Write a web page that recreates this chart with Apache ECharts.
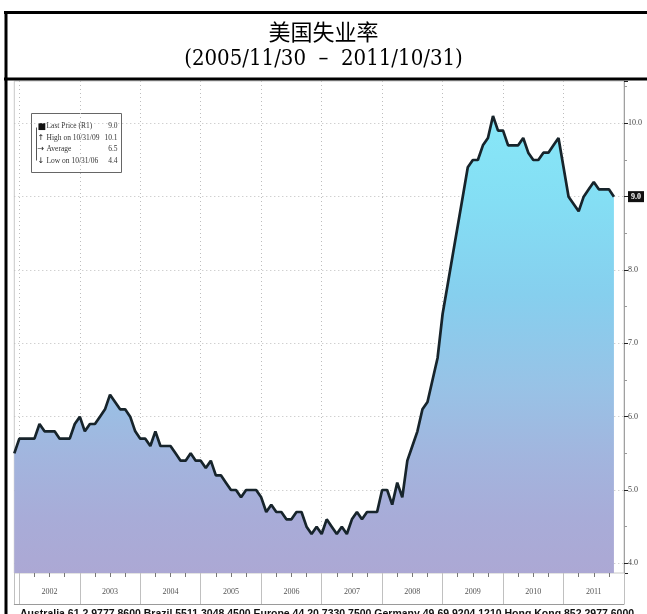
<!DOCTYPE html>
<html><head><meta charset="utf-8">
<script src="https://cdn.jsdelivr.net/npm/echarts@6/dist/echarts.min.js"></script>
<style>html,body{margin:0;padding:0;background:#fff}#c{width:647px;height:614px}</style>
</head><body><div id="c"></div>
<script>
// Month-end categories (Nov 2001 .. Dec 2011)
const months = [
 '2001-11','2001-12',
 '2002-01','2002-02','2002-03','2002-04','2002-05','2002-06','2002-07','2002-08','2002-09','2002-10','2002-11','2002-12',
 '2003-01','2003-02','2003-03','2003-04','2003-05','2003-06','2003-07','2003-08','2003-09','2003-10','2003-11','2003-12',
 '2004-01','2004-02','2004-03','2004-04','2004-05','2004-06','2004-07','2004-08','2004-09','2004-10','2004-11','2004-12',
 '2005-01','2005-02','2005-03','2005-04','2005-05','2005-06','2005-07','2005-08','2005-09','2005-10','2005-11','2005-12',
 '2006-01','2006-02','2006-03','2006-04','2006-05','2006-06','2006-07','2006-08','2006-09','2006-10','2006-11','2006-12',
 '2007-01','2007-02','2007-03','2007-04','2007-05','2007-06','2007-07','2007-08','2007-09','2007-10','2007-11','2007-12',
 '2008-01','2008-02','2008-03','2008-04','2008-05','2008-06','2008-07','2008-08','2008-09','2008-10','2008-11','2008-12',
 '2009-01','2009-02','2009-03','2009-04','2009-05','2009-06','2009-07','2009-08','2009-09','2009-10','2009-11','2009-12',
 '2010-01','2010-02','2010-03','2010-04','2010-05','2010-06','2010-07','2010-08','2010-09','2010-10','2010-11','2010-12',
 '2011-01','2011-02','2011-03','2011-04','2011-05','2011-06','2011-07','2011-08','2011-09','2011-10','2011-11','2011-12'
];
// US unemployment rate (%)
const values = [
 5.5,5.7,
 5.7,5.7,5.7,5.9,5.8,5.8,5.8,5.7,5.7,5.7,5.9,6.0,
 5.8,5.9,5.9,6.0,6.1,6.3,6.2,6.1,6.1,6.0,5.8,5.7,
 5.7,5.6,5.8,5.6,5.6,5.6,5.5,5.4,5.4,5.5,5.4,5.4,
 5.3,5.4,5.2,5.2,5.1,5.0,5.0,4.9,5.0,5.0,5.0,4.9,
 4.7,4.8,4.7,4.7,4.6,4.6,4.7,4.7,4.5,4.4,4.5,4.4,
 4.6,4.5,4.4,4.5,4.4,4.6,4.7,4.6,4.7,4.7,4.7,5.0,
 5.0,4.8,5.1,4.9,5.4,5.6,5.8,6.1,6.2,6.5,6.8,7.4,
 7.8,8.2,8.6,9.0,9.4,9.5,9.5,9.7,9.8,10.1,9.9,9.9,
 9.7,9.7,9.7,9.8,9.6,9.5,9.5,9.6,9.6,9.7,9.8,9.4,
 9.0,8.9,8.8,9.0,9.1,9.2,9.1,9.1,9.1,9.0,null,null
];
const yearLabels = ['2002','2003','2004','2005','2006','2007','2008','2009','2010','2011'];
const legendNames = ['Last Price (R1)','High on 10/31/09','Average','Low on 10/31/06'];
const titleText = '美国失业率';
const subtitleText = '(2005/11/30  –  2011/10/31)';
const footerText = 'Australia 61 2 9777 8600 Brazil 5511 3048 4500 Europe 44 20 7330 7500 Germany 49 69 9204 1210 Hong Kong 852 2977 6000';

const valid = values.filter(v => v != null);
const lastVal = valid[valid.length - 1];
const highVal = Math.max(...valid);
const lowVal = Math.min(...valid);
const avgVal = valid.reduce((a, b) => a + b, 0) / valid.length;
const legendVals = [lastVal, highVal, avgVal, lowVal].map(v => v.toFixed(1));
const legendIcons = ['■', '↑', '→', '↓'];

const chart = echarts.init(document.getElementById('c'), null, {renderer: 'canvas'});
const serif = 'Liberation Serif';
const legendChildren = [
  {type: 'rect', shape: {x: 0, y: 0, width: 90, height: 59}, style: {fill: '#fff', stroke: '#666', lineWidth: 1}},
  {type: 'line', shape: {x1: 5, y1: 14, x2: 5, y2: 47}, style: {stroke: '#555', lineWidth: 1}}
];
legendNames.forEach((n, i) => {
  const y = 13 + i * 11.4;
  legendChildren.push({type: 'text', style: {x: 6, y: y, text: legendIcons[i], fill: '#111', fontSize: i === 0 ? 9 : 8, fontFamily: 'DejaVu Sans', verticalAlign: 'middle'}});
  legendChildren.push({type: 'text', style: {x: 15, y: y, text: n, fill: '#333', fontSize: 7.5, fontFamily: serif, verticalAlign: 'middle'}});
  legendChildren.push({type: 'text', style: {x: 86, y: y, text: legendVals[i], fill: '#333', fontSize: 7.5, fontFamily: serif, align: 'right', verticalAlign: 'middle'}});
});

const option = {
  animation: false,
  backgroundColor: '#fff',
  title: [
    {text: titleText, left: 'center', top: 16, textStyle: {fontFamily: 'Noto Sans CJK SC', fontSize: 22, fontWeight: 'normal', color: '#000'}},
    {text: subtitleText, left: 'center', top: 43, textStyle: {fontFamily: 'DejaVu Serif Condensed', fontSize: 22, fontWeight: 'normal', color: '#000'}}
  ],
  grid: {left: 14.3, right: 21.4, top: 81, bottom: 41, show: true, borderColor: '#c8c8c8', borderWidth: 1},
  xAxis: [
    {
      type: 'category', data: months, boundaryGap: false,
      axisLine: {show: false},
      axisTick: {show: true, length: 4, interval: (i, v) => /-(03|06|09|12)$/.test(v), lineStyle: {color: '#777'}},
      axisLabel: {
        interval: (i, v) => v.endsWith('-06') && yearLabels.includes(v.slice(0, 4)),
        formatter: v => v.slice(0, 4), margin: 15, fontSize: 8, fontFamily: serif, color: '#555'
      },
      splitLine: {show: true, interval: (i, v) => v.endsWith('-12'), lineStyle: {type: [1, 3], color: '#bdbdbd'}}
    },
    {
      type: 'category', data: months, boundaryGap: false, position: 'bottom', offset: 31,
      axisLine: {show: true, lineStyle: {color: '#9a9a9a'}},
      axisTick: {show: true, inside: true, length: 31, interval: (i, v) => i === 0 || v.endsWith('-12'), lineStyle: {color: '#c0c0c0'}},
      axisLabel: {show: false}, splitLine: {show: false}
    }
  ],
  yAxis: {
    type: 'value', position: 'right', min: 3.868, max: 10.577, splitNumber: 7,
    axisLine: {show: true, lineStyle: {color: '#a0a0a0'}},
    axisTick: {show: true, length: 4, lineStyle: {color: '#222'}},
    minorTick: {show: true, splitNumber: 2, length: 3, lineStyle: {color: '#999'}},
    axisLabel: {
      showMinLabel: false, showMaxLabel: false, margin: 4, fontSize: 8, fontFamily: serif, color: '#444',
      formatter: v => (Math.abs(v - lastVal) < 1e-9 ? '{tag|' + v.toFixed(1) + '}' : v.toFixed(1)),
      rich: {tag: {backgroundColor: '#111', color: '#fff', padding: [2, 3, 1, 3], fontSize: 8, fontFamily: serif, fontWeight: 'bold'}}
    },
    splitLine: {show: true, showMinLine: false, showMaxLine: false, lineStyle: {type: [1, 3], color: '#bdbdbd'}}
  },
  series: [{
    type: 'line', data: values, symbol: 'none', connectNulls: false,
    lineStyle: {color: '#17242b', width: 2.7},
    areaStyle: {
      origin: 'start', opacity: 1,
      color: new echarts.graphic.LinearGradient(0, 110, 0, 573, [
        {offset: 0, color: '#88e8f8'},
        {offset: 0.2, color: '#84def4'},
        {offset: 0.4, color: '#86cfee'},
        {offset: 0.6, color: '#98c2e6'},
        {offset: 0.75, color: '#a2b5de'},
        {offset: 0.88, color: '#a8acd8'},
        {offset: 1, color: '#aca8d4'}
      ], true)
    }
  }],
  graphic: [
    {type: 'group', left: 31, top: 113, z: 50, children: legendChildren},
    {type: 'line', z: 60, shape: {x1: 4, y1: 12.5, x2: 647, y2: 12.5}, style: {stroke: '#000', lineWidth: 3}},
    {type: 'line', z: 60, shape: {x1: 4, y1: 79, x2: 647, y2: 79}, style: {stroke: '#000', lineWidth: 3}},
    {type: 'line', z: 60, shape: {x1: 6, y1: 11, x2: 6, y2: 614}, style: {stroke: '#000', lineWidth: 3}},
    {type: 'text', z: 60, style: {x: 20, y: 609, text: footerText, fill: '#111', fontSize: 10.5, fontWeight: 'bold', fontFamily: 'Liberation Sans', verticalAlign: 'top'}}
  ]
};
chart.setOption(option);
</script></body></html>
